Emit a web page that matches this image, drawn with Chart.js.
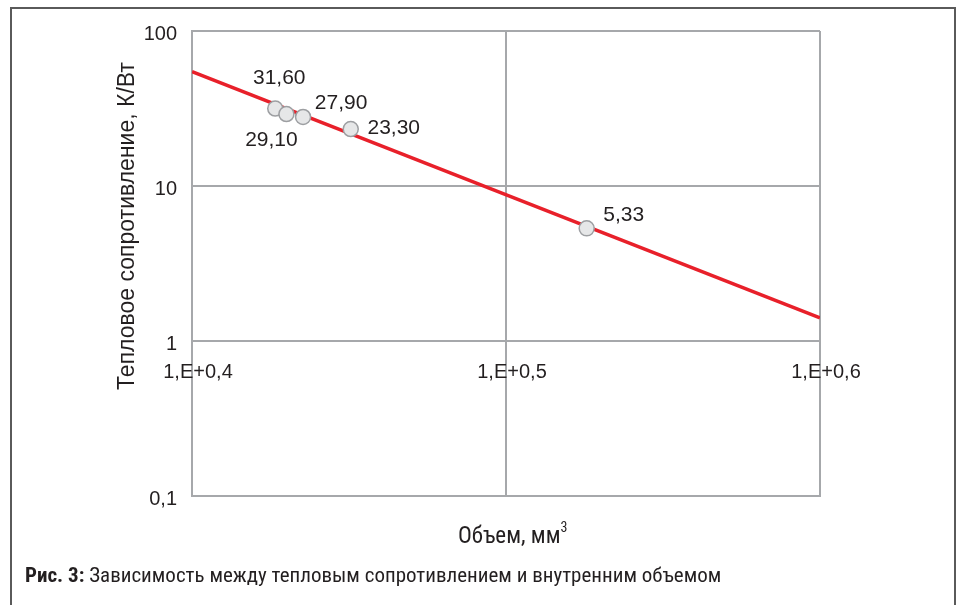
<!DOCTYPE html>
<html>
<head>
<meta charset="utf-8">
<script src="https://cdn.jsdelivr.net/npm/chart.js@4"></script>
<style>
  html, body { margin: 0; padding: 0; background: #fff; }
  #wrap { position: relative; width: 962px; height: 605px; overflow: hidden; }
  #frame { position: absolute; left: 10px; top: 7px; width: 946px; height: 620px; border: 2px solid #5a5a5a; box-sizing: border-box; }
  canvas { position: absolute; left: 0; top: 0; }
  .narrow { font-family: "Liberation Sans Narrow", "Roboto Condensed", "Roboto", sans-serif; color: #231f20; position: absolute; white-space: nowrap; }
  #xtitle { left: 458px; top: 521px; font-size: 23px; }
  #xtitle sup { font-size: 14px; position: relative; top: -2px; }
  #caption { left: 25px; top: 563px; font-size: 21px; }
</style>
</head>
<body>
<div id="wrap">
  <div id="frame"></div>
  <canvas id="c" width="962" height="605"></canvas>
  <div id="xtitle" class="narrow">Объем, мм<sup>3</sup></div>
  <div id="caption" class="narrow"><b>Рис. 3:</b> Зависимость между тепловым сопротивлением и внутренним объемом</div>
</div>
<script>
// ---- data ----
const volumes = [2.670, 2.692, 2.725, 2.822, 3.355];          // мм³
const resistances = [31.6, 29.1, 27.9, 23.3, 5.33];           // К/Вт
const pointLabels = ['31,60', '29,10', '27,90', '23,30', '5,33'];
const trendVolumes = [2.512, 3.981];
const trendResistances = [54.6, 1.41];
const xTickExponents = [0.4, 0.5, 0.6];
const xTickLabels = ['1,E+0,4', '1,E+0,5', '1,E+0,6'];
const yTickValues = [0.1, 1, 10, 100];
const yTickLabels = ['0,1', '1', '10', '100'];
const yTitle = 'Тепловое сопротивление, К/Вт';

// label offsets (px) relative to each point
const labelOffsets = [[4, -30], [-15, 26], [38, -14], [43, -1], [37, -13]];

const xTickValues = xTickExponents.map(e => Math.pow(10, e));
const FONT = '"Liberation Sans", Arial, sans-serif';
const TEXT = '#231f20';
const GRID = '#a6a8ab';

const textPlugin = {
  id: 'textPlugin',
  afterDraw(chart) {
    const ctx = chart.ctx;
    const xs = chart.scales.x, ys = chart.scales.y;
    ctx.save();
    ctx.fillStyle = TEXT;
    ctx.textBaseline = 'middle';
    // y tick labels
    ctx.font = '20px ' + FONT;
    ctx.textAlign = 'right';
    yTickValues.forEach((v, i) => {
      ctx.fillText(yTickLabels[i], xs.left - 15, ys.getPixelForValue(v) + 3);
    });
    // x tick labels placed at the y=1 crossing
    ctx.textAlign = 'center';
    const yCross = ys.getPixelForValue(1);
    xTickValues.forEach((v, i) => {
      ctx.fillText(xTickLabels[i], xs.getPixelForValue(v) + 6, yCross + 31);
    });
    // data labels
    ctx.font = '21px ' + FONT;
    const meta = chart.getDatasetMeta(0);
    meta.data.forEach((el, i) => {
      const o = labelOffsets[i];
      ctx.fillText(pointLabels[i], el.x + o[0], el.y + o[1]);
    });
    // y title
    ctx.font = '23px ' + FONT;
    ctx.translate(128, 226);
    ctx.rotate(-Math.PI / 2);
    ctx.fillText(yTitle, 0, 0);
    ctx.restore();
  }
};

new Chart(document.getElementById('c'), {
  data: {
    datasets: [
      {
        type: 'scatter',
        data: volumes.map((v, i) => ({ x: v, y: resistances[i] })),
        backgroundColor: '#e6e7e8',
        borderColor: '#9d9fa2',
        borderWidth: 1.5,
        pointRadius: 7.5,
        order: 0
      },
      {
        type: 'line',
        data: trendVolumes.map((v, i) => ({ x: v, y: trendResistances[i] })),
        borderColor: '#e8202a',
        borderWidth: 3.5,
        pointRadius: 0,
        fill: false,
        order: 1
      }
    ]
  },
  options: {
    responsive: false,
    animation: false,
    events: [],
    layout: { padding: { left: 0, top: 31, right: 142, bottom: 0 } },
    plugins: { legend: { display: false }, tooltip: { enabled: false }, title: { display: false } },
    scales: {
      x: {
        type: 'logarithmic',
        position: 'bottom',
        min: xTickValues[0],
        max: xTickValues[xTickValues.length - 1],
        afterBuildTicks(scale) { scale.ticks = xTickValues.map(v => ({ value: v })); },
        afterFit(scale) { scale.height = 605 - 496; },
        ticks: { display: false, autoSkip: false },
        grid: { color: GRID, lineWidth: 2, drawTicks: false },
        border: { display: true, color: GRID, width: 2 }
      },
      y: {
        type: 'logarithmic',
        position: 'left',
        min: yTickValues[0],
        max: yTickValues[yTickValues.length - 1],
        afterBuildTicks(scale) { scale.ticks = yTickValues.map(v => ({ value: v })); },
        afterFit(scale) { scale.width = 192; },
        ticks: { display: false, autoSkip: false },
        grid: { color: GRID, lineWidth: 2, drawTicks: false },
        border: { display: true, color: GRID, width: 2 }
      }
    }
  },
  plugins: [textPlugin]
});
</script>
</body>
</html>
